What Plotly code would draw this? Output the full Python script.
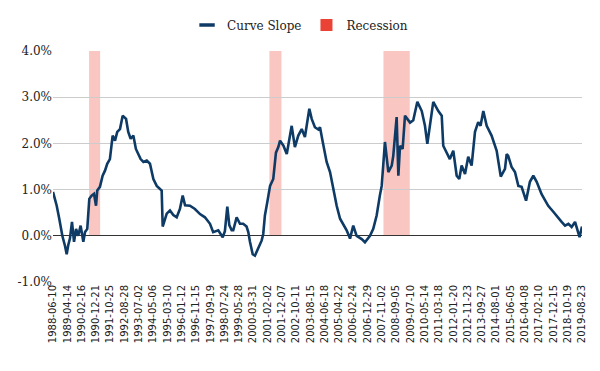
import plotly.graph_objects as go

# --- data (weekly 10y-2y slope, % points) ---
slope_dates = [
    "1988-06-10", "1988-08-29", "1988-10-23", "1988-12-28", "1989-02-24", "1989-04-01",
    "1989-05-05", "1989-06-10", "1989-07-24", "1989-09-06", "1989-10-20", "1989-12-06",
    "1990-01-26", "1990-03-25", "1990-05-01", "1990-06-18", "1990-08-01", "1990-09-20",
    "1990-11-10", "1990-12-24", "1991-01-19", "1991-03-18", "1991-05-15", "1991-07-05",
    "1991-08-22", "1991-10-19", "1991-12-17", "1992-02-06", "1992-03-25", "1992-05-23",
    "1992-07-20", "1992-10-01", "1992-11-17", "1993-01-08", "1993-03-07", "1993-05-01",
    "1993-06-21", "1993-08-11", "1993-10-09", "1993-12-20", "1994-02-28", "1994-05-12",
    "1994-07-24", "1994-10-01", "1994-11-07", "1994-11-29", "1994-12-28", "1995-02-24",
    "1995-05-05", "1995-07-16", "1995-09-27", "1995-12-05", "1996-02-03", "1996-03-25",
    "1996-07-08", "1996-10-23", "1997-02-10", "1997-05-27", "1997-09-13", "1997-11-21",
    "1998-03-10", "1998-06-14", "1998-07-31", "1998-09-21", "1998-11-03", "1998-12-24",
    "1999-01-27", "1999-04-10", "1999-06-21", "1999-08-29", "1999-11-10", "1999-12-17",
    "2000-01-22", "2000-03-21", "2000-05-08", "2000-07-20", "2000-10-01", "2000-11-03",
    "2000-12-09", "2001-01-30", "2001-03-30", "2001-06-07", "2001-08-04", "2001-09-24",
    "2001-10-31", "2002-01-12", "2002-03-25", "2002-07-09", "2002-09-16", "2002-11-28",
    "2003-02-10", "2003-04-20", "2003-07-24", "2003-09-13", "2003-11-21", "2004-02-03",
    "2004-03-10", "2004-05-08", "2004-07-31", "2004-10-12", "2004-12-20", "2005-03-04",
    "2005-05-16", "2005-07-24", "2005-10-05", "2005-12-17", "2006-02-24", "2006-05-08",
    "2006-08-25", "2006-11-03", "2007-02-20", "2007-05-01", "2007-07-13", "2007-09-20",
    "2007-10-30", "2008-01-08", "2008-03-21", "2008-06-02", "2008-07-05", "2008-09-16",
    "2008-10-23", "2008-11-28", "2009-01-23", "2009-03-15", "2009-05-05", "2009-07-02",
    "2009-09-09", "2009-12-06", "2010-03-11", "2010-05-19", "2010-07-09", "2010-09-06",
    "2010-11-14", "2011-03-03", "2011-05-15", "2011-06-17", "2011-08-29", "2011-11-06",
    "2012-01-19", "2012-04-01", "2012-05-27", "2012-07-17", "2012-09-28", "2012-12-06",
    "2013-02-17", "2013-05-01", "2013-07-09", "2013-08-29", "2013-10-27", "2014-01-08",
    "2014-04-23", "2014-08-11", "2014-11-07", "2015-02-06", "2015-03-14", "2015-04-16",
    "2015-06-28", "2015-09-09", "2015-11-21", "2016-01-30", "2016-05-05", "2016-07-27",
    "2016-10-08", "2016-12-20", "2017-04-05", "2017-06-17", "2017-08-25", "2017-12-13",
    "2018-03-07", "2018-06-10", "2018-08-22", "2018-11-03", "2019-01-12", "2019-03-26",
    "2019-07-01", "2019-08-23",
]
slope_values = [
    0.95, 0.65, 0.37, 0.00, -0.22, -0.40,
    -0.20, -0.06, 0.30, -0.13, 0.15, 0.00,
    0.22, -0.13, 0.08, 0.15, 0.80, 0.87,
    0.91, 0.65, 0.98, 1.06, 1.30, 1.41,
    1.56, 1.66, 2.17, 2.06, 2.25, 2.31,
    2.60, 2.53, 2.25, 2.10, 2.17, 1.88,
    1.77, 1.66, 1.60, 1.63, 1.56, 1.23,
    1.08, 1.02, 0.98, 0.20, 0.30, 0.48,
    0.55, 0.45, 0.40, 0.58, 0.87, 0.66,
    0.65, 0.58, 0.47, 0.40, 0.26, 0.08,
    0.12, -0.03, 0.10, 0.63, 0.23, 0.12,
    0.12, 0.40, 0.26, 0.26, 0.20, 0.08,
    -0.13, -0.40, -0.43, -0.25, -0.10, 0.04,
    0.44, 0.73, 1.08, 1.23, 1.80, 1.92,
    2.06, 1.95, 1.77, 2.38, 1.92, 2.17,
    2.31, 2.14, 2.75, 2.53, 2.35, 2.30,
    2.35, 2.03, 1.60, 1.38, 1.02, 0.65,
    0.37, 0.26, 0.12, -0.06, 0.22, 0.00,
    -0.07, -0.14, 0.00, 0.15, 0.44, 0.87,
    1.08, 2.03, 1.38, 1.52, 1.73, 2.57,
    1.30, 1.95, 1.88, 2.60, 2.53, 2.45,
    2.50, 2.90, 2.70, 2.38, 1.99, 2.46,
    2.90, 2.70, 2.60, 1.95, 1.81, 1.66,
    1.84, 1.30, 1.23, 1.52, 1.34, 1.71,
    1.52, 2.25, 2.46, 2.38, 2.70, 2.38,
    2.17, 1.84, 1.28, 1.45, 1.77, 1.73,
    1.49, 1.38, 1.08, 1.06, 0.76, 1.17,
    1.30, 1.17, 0.90, 0.76, 0.65, 0.52,
    0.41, 0.30, 0.22, 0.26, 0.19, 0.30,
    -0.03, 0.20,
]

recession_starts = ["1990-07-27", "2001-03-16", "2007-12-07"]
recession_ends = ["1991-03-22", "2001-11-30", "2009-06-26"]

tick_labels = [
    "1988-06-10", "1989-04-14", "1990-02-16", "1990-12-21", "1991-10-25", "1992-08-28",
    "1993-07-02", "1994-05-06", "1995-03-10", "1996-01-12", "1996-11-15", "1997-09-19",
    "1998-07-24", "1999-05-28", "2000-03-31", "2001-02-02", "2001-12-07", "2002-10-11",
    "2003-08-15", "2004-06-18", "2005-04-22", "2006-02-24", "2006-12-29", "2007-11-02",
    "2008-09-05", "2009-07-10", "2010-05-14", "2011-03-18", "2012-01-20", "2012-11-23",
    "2013-09-27", "2014-08-01", "2015-06-05", "2016-04-08", "2017-02-10", "2017-12-15",
    "2018-10-19", "2019-08-23",
]
y_ticks = [-1, 0, 1, 2, 3, 4]
y_tick_labels = ["-1.0%", "0.0%", "1.0%", "2.0%", "3.0%", "4.0%"]

LINE_COLOR = "#0e3a66"
REC_COLOR = "#ea4335"

fig = go.Figure()

fig.add_trace(go.Scatter(
    x=slope_dates, y=slope_values, mode="lines", name="Curve Slope",
    line=dict(color=LINE_COLOR, width=2.6), showlegend=False,
))
# legend entries
fig.add_trace(go.Scatter(
    x=[None], y=[None], mode="markers", name="Curve Slope",
    marker=dict(symbol="line-ew-open", size=11, color=LINE_COLOR,
                line=dict(color=LINE_COLOR, width=3.5)),
))
fig.add_trace(go.Bar(
    x=[None], y=[None], name="Recession", marker=dict(color=REC_COLOR),
))

for s, e in zip(recession_starts, recession_ends):
    fig.add_shape(type="rect", xref="x", yref="y", x0=s, x1=e, y0=0, y1=4,
                  fillcolor=REC_COLOR, opacity=0.3, line=dict(width=0), layer="below")

# the page body adds an 8px offset, so the figure is sized 8px smaller
fig.update_layout(
    template="none",
    width=592, height=363,
    margin=dict(l=45, r=18, t=43, b=89, autoexpand=False),
    paper_bgcolor="white", plot_bgcolor="white",
    showlegend=True,
    legend=dict(orientation="h", x=0.467, xanchor="center",
                yref="container", y=0.953, yanchor="middle",
                font=dict(family="DejaVu Serif", size=12, color="#222"),
                traceorder="normal", bgcolor="rgba(0,0,0,0)"),
    font=dict(family="DejaVu Serif", color="#222"),
    xaxis=dict(
        type="date",
        range=[tick_labels[0], tick_labels[-1]],
        tickmode="array", tickvals=tick_labels, ticktext=tick_labels,
        tickangle=-90, tickfont=dict(family="DejaVu Sans", size=10, color="#222"),
        showgrid=False, showline=False, zeroline=False, ticks="", automargin=False,
    ),
    yaxis=dict(
        range=[-1, 4], tickmode="array", tickvals=y_ticks, ticktext=y_tick_labels,
        tickfont=dict(family="DejaVu Serif", size=12, color="#222"),
        showgrid=True, gridcolor="#cccccc", gridwidth=1,
        zeroline=True, zerolinecolor="#333333", zerolinewidth=1,
        showline=False, ticks="", automargin=False,
    ),
)

fig.write_html("out.html")
